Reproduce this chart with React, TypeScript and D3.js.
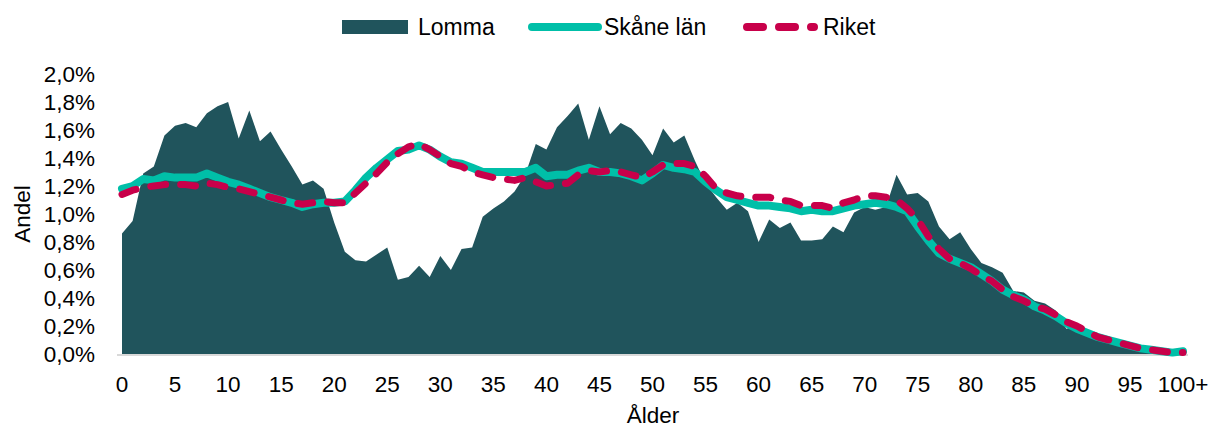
import React, { useEffect, useRef } from "react";
import * as d3 from "d3";

// andel (%) per ålder 0..100+
const lomma = [
  0.86, 0.95, 1.29, 1.34, 1.56, 1.63, 1.65, 1.62, 1.72, 1.77,
  1.8, 1.54, 1.74, 1.52, 1.59, 1.46, 1.34, 1.21, 1.24, 1.18,
  0.94, 0.73, 0.67, 0.66, 0.71, 0.76, 0.53, 0.55, 0.63, 0.55,
  0.7, 0.6, 0.75, 0.76, 0.98, 1.04, 1.09, 1.16, 1.28, 1.5,
  1.46, 1.62, 1.7, 1.79, 1.53, 1.77, 1.57, 1.65, 1.61, 1.53,
  1.42, 1.61, 1.51, 1.56, 1.38, 1.22, 1.12, 1.03, 1.08, 1.02,
  0.8, 0.96, 0.9, 0.94, 0.81, 0.81, 0.82, 0.91, 0.87, 1.01,
  1.05, 1.03, 1.05, 1.28, 1.14, 1.15, 1.09, 0.91, 0.82, 0.87,
  0.75, 0.65, 0.62, 0.58, 0.45, 0.44, 0.38, 0.36, 0.31, 0.18,
  0.2, 0.15, 0.11, 0.08, 0.06, 0.04, 0.03, 0.02, 0.01, 0.01,
  0.005,
];

const skane = [
  1.18, 1.2, 1.25, 1.24, 1.27, 1.26, 1.26, 1.26, 1.29, 1.26,
  1.23, 1.21, 1.18, 1.15, 1.12, 1.1, 1.08, 1.05, 1.07, 1.08,
  1.08, 1.09, 1.17, 1.26, 1.33, 1.39, 1.45, 1.46, 1.49, 1.46,
  1.41, 1.37, 1.36, 1.33, 1.3, 1.3, 1.3, 1.3, 1.3, 1.33,
  1.27, 1.28, 1.28, 1.31, 1.33, 1.3, 1.3, 1.29, 1.27, 1.24,
  1.29, 1.35, 1.33, 1.32, 1.3, 1.23, 1.17, 1.12, 1.1, 1.08,
  1.06, 1.06, 1.05, 1.04, 1.02, 1.03, 1.02, 1.02, 1.04, 1.06,
  1.07, 1.08, 1.07, 1.05, 1.02, 0.91, 0.81, 0.72, 0.68, 0.65,
  0.62, 0.57, 0.52, 0.46, 0.42, 0.39, 0.34, 0.31, 0.27, 0.22,
  0.18, 0.15, 0.12, 0.1, 0.08, 0.06, 0.04, 0.03, 0.02, 0.01,
  0.02,
];

const riket = [
  1.14, 1.17, 1.19, 1.2, 1.21, 1.21, 1.21, 1.2, 1.22, 1.21,
  1.19, 1.18, 1.16, 1.14, 1.12, 1.1, 1.08, 1.07, 1.08, 1.09,
  1.08, 1.08, 1.15, 1.22, 1.29, 1.37, 1.43, 1.48, 1.5, 1.46,
  1.41, 1.36, 1.34, 1.3, 1.28, 1.26, 1.25, 1.24, 1.26, 1.23,
  1.2, 1.21, 1.22, 1.28, 1.31, 1.3, 1.31, 1.3, 1.28, 1.26,
  1.3, 1.35, 1.36, 1.36, 1.34, 1.27, 1.18, 1.15, 1.13, 1.12,
  1.12, 1.12, 1.1, 1.09, 1.06, 1.06, 1.06, 1.04, 1.08, 1.1,
  1.13, 1.13, 1.12, 1.1, 1.04, 0.96, 0.84, 0.75, 0.68, 0.65,
  0.61, 0.56, 0.52, 0.46, 0.41, 0.38, 0.34, 0.32, 0.28, 0.23,
  0.2, 0.16, 0.12, 0.1, 0.08, 0.06, 0.04, 0.03, 0.02, 0.01,
  0.01,
];

const xTicks = [0, 5, 10, 15, 20, 25, 30, 35, 40, 45, 50, 55, 60, 65, 70, 75, 80, 85, 90, 95, 100];
const xTickLabels = ["0", "5", "10", "15", "20", "25", "30", "35", "40", "45", "50", "55", "60", "65", "70", "75", "80", "85", "90", "95", "100+"];
const yTicks = [0, 0.2, 0.4, 0.6, 0.8, 1.0, 1.2, 1.4, 1.6, 1.8, 2.0];

const FONT = "'Liberation Sans', Arial, sans-serif";
const C_LOMMA = "#20545c";
const C_SKANE = "#00bfa8";
const C_RIKET = "#c8004a";

export default function App() {
  const ref = useRef<SVGSVGElement>(null);

  useEffect(() => {
    const svg = d3.select(ref.current);
    svg.selectAll("*").remove();

    const x = d3.scaleLinear().domain([0, 100]).range([122, 1183]);
    const y = d3.scaleLinear().domain([0, 2]).range([354, 74]);

    const area = d3
      .area<number>()
      .x((_, i) => x(i))
      .y0(y(0))
      .y1((d) => y(d));

    const line = d3
      .line<number>()
      .x((_, i) => x(i))
      .y((d) => y(d));

    svg.append("path").attr("d", area(lomma)).attr("fill", C_LOMMA);

    // baseline
    svg
      .append("line")
      .attr("x1", x(0) - 5)
      .attr("x2", x(100) + 5)
      .attr("y1", y(0) + 1)
      .attr("y2", y(0) + 1)
      .attr("stroke", "#d9d9d9")
      .attr("stroke-width", 2);

    svg
      .append("path")
      .attr("d", line(skane))
      .attr("fill", "none")
      .attr("stroke", C_SKANE)
      .attr("stroke-width", 8)
      .attr("stroke-linejoin", "round")
      .attr("stroke-linecap", "round");

    svg
      .append("path")
      .attr("d", line(riket))
      .attr("fill", "none")
      .attr("stroke", C_RIKET)
      .attr("stroke-width", 7)
      .attr("stroke-dasharray", "15 15")
      .attr("stroke-linejoin", "round")
      .attr("stroke-linecap", "round");

    // y axis labels
    svg
      .append("g")
      .selectAll("text")
      .data(yTicks)
      .enter()
      .append("text")
      .attr("x", 95)
      .attr("y", (d) => y(d))
      .attr("dy", "0.35em")
      .attr("text-anchor", "end")
      .attr("font-family", FONT)
      .attr("font-size", 22.5)
      .text((d) => d.toFixed(1).replace(".", ",") + "%");

    // x axis labels
    svg
      .append("g")
      .selectAll("text")
      .data(xTicks)
      .enter()
      .append("text")
      .attr("x", (d) => x(d))
      .attr("y", 384)
      .attr("dy", "0.35em")
      .attr("text-anchor", "middle")
      .attr("font-family", FONT)
      .attr("font-size", 22.5)
      .text((_, i) => xTickLabels[i]);

    svg
      .append("text")
      .attr("x", 653)
      .attr("y", 415)
      .attr("dy", "0.35em")
      .attr("text-anchor", "middle")
      .attr("font-family", FONT)
      .attr("font-size", 22.5)
      .text("Ålder");

    svg
      .append("text")
      .attr("transform", "translate(22,214) rotate(-90)")
      .attr("dy", "0.35em")
      .attr("text-anchor", "middle")
      .attr("font-family", FONT)
      .attr("font-size", 22.5)
      .text("Andel");

    // legend
    const lg = svg.append("g").attr("font-family", FONT).attr("font-size", 23);
    lg.append("rect").attr("x", 342).attr("y", 20).attr("width", 66).attr("height", 14).attr("fill", C_LOMMA);
    lg.append("text").attr("x", 418).attr("y", 27).attr("dy", "0.35em").text("Lomma");
    lg.append("line")
      .attr("x1", 532).attr("x2", 598).attr("y1", 27).attr("y2", 27)
      .attr("stroke", C_SKANE).attr("stroke-width", 8).attr("stroke-linecap", "round");
    lg.append("text").attr("x", 604).attr("y", 27).attr("dy", "0.35em").text("Skåne län");
    lg.append("line")
      .attr("x1", 747).attr("x2", 814).attr("y1", 27).attr("y2", 27)
      .attr("stroke", C_RIKET).attr("stroke-width", 8).attr("stroke-linecap", "round")
      .attr("stroke-dasharray", "16 16");
    lg.append("text").attr("x", 823).attr("y", 27).attr("dy", "0.35em").text("Riket");
  }, []);

  return (
    <svg
      ref={ref}
      width={1213}
      height={428}
      style={{ position: "absolute", left: 0, top: 0, background: "#fff" }}
    />
  );
}
